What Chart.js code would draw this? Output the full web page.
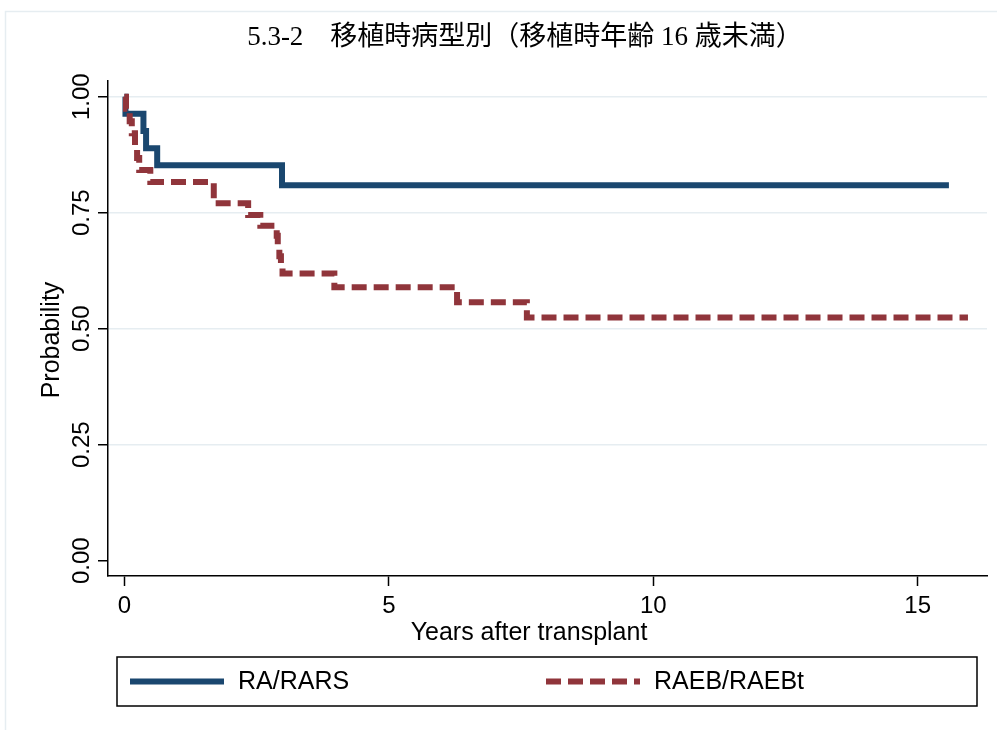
<!DOCTYPE html>
<html>
<head>
<meta charset="utf-8">
<script src="https://cdn.jsdelivr.net/npm/chart.js@4.4.1/dist/chart.umd.min.js"></script>
<style>
  html, body { margin:0; padding:0; background:#fff; }
  #wrap { width:997px; height:730px; }
</style>
</head>
<body>
<div id="wrap"><canvas id="km"></canvas></div>
<script>
// Kaplan-Meier curves (years, probability)
const raTimes   = [0, 0.02, 0.36, 0.41, 0.62, 2.98, 15.59];
const raSurv    = [1.000, 0.963, 0.926, 0.889, 0.852, 0.809, 0.809];
const raebTimes = [0, 0.03, 0.10, 0.14, 0.20, 0.24, 0.28, 0.49, 1.69, 2.34, 2.57, 2.88, 2.90, 2.93, 2.96, 2.99, 3.97, 6.29, 7.61, 15.95];
const raebSurv  = [1.000, 0.974, 0.947, 0.921, 0.895, 0.868, 0.842, 0.816, 0.770, 0.745, 0.722, 0.700, 0.678, 0.656, 0.638, 0.619, 0.589, 0.557, 0.524, 0.524];
const seriesNames = ["RA/RARS", "RAEB/RAEBt"];
const xTicks = [0, 5, 10, 15];
const yTicks = [0, 0.25, 0.5, 0.75, 1];
const yTickLabels = ["0.00", "0.25", "0.50", "0.75", "1.00"];

const TITLE = "5.3-2\u3000移植時病型別（移植時年齢 16 歳未満）";
const X_TITLE = "Years after transplant";
const Y_TITLE = "Probability";

const BLUE = "#1a476f", RED = "#90353b", GRID = "#e6edf1";
const SANS = "'Liberation Sans', Arial, Helvetica, sans-serif";
const FS_TICK = 24, FS_LABEL = 25;

const toPts = (ts, ps) => ts.map((t, i) => ({ x: t, y: ps[i] }));

// light outer frame of the graph region
const frame = {
  id: "frame",
  beforeDraw(chart) {
    const ctx = chart.ctx;
    ctx.save();
    ctx.fillStyle = "#fff";
    ctx.fillRect(0, 0, chart.width, chart.height);
    ctx.strokeStyle = GRID;
    ctx.lineWidth = 1.5;
    ctx.strokeRect(5.5, 11.5, chart.width + 20, chart.height + 20);
    ctx.restore();
  }
};

// vertical y tick labels + axis titles
const axisText = {
  id: "axisText",
  afterDraw(chart) {
    const ctx = chart.ctx, ys = chart.scales.y;
    ctx.save();
    ctx.fillStyle = "#000";
    ctx.textAlign = "center";
    ctx.textBaseline = "middle";
    ctx.font = FS_TICK + "px " + SANS;
    yTicks.forEach((v, i) => {
      ctx.save();
      ctx.translate(ys.right - 26, ys.getPixelForValue(v));
      ctx.rotate(-Math.PI / 2);
      ctx.fillText(yTickLabels[i], 0, 0);
      ctx.restore();
    });
    ctx.font = FS_LABEL + "px " + SANS;
    ctx.save();
    ctx.translate(52, 340);
    ctx.rotate(-Math.PI / 2);
    ctx.fillText(Y_TITLE, 0, 0);
    ctx.restore();
    ctx.fillText(X_TITLE, 529, 633);
    ctx.restore();
  }
};

// Stata style legend in a box under the plot
const boxLegend = {
  id: "boxLegend",
  afterDraw(chart) {
    const ctx = chart.ctx;
    const x0 = 117, y0 = 657, w = 860, h = 49, cy = y0 + h / 2;
    const starts = [130, 546];
    ctx.save();
    ctx.strokeStyle = "#000";
    ctx.lineWidth = 1.5;
    ctx.strokeRect(x0, y0, w, h);
    chart.data.datasets.forEach((ds, i) => {
      const lx = starts[i];
      ctx.beginPath();
      ctx.setLineDash(ds.borderDash || []);
      ctx.strokeStyle = ds.borderColor;
      ctx.lineWidth = ds.borderWidth;
      ctx.moveTo(lx, cy);
      ctx.lineTo(lx + 94, cy);
      ctx.stroke();
      ctx.setLineDash([]);
      ctx.fillStyle = "#000";
      ctx.font = FS_LABEL + "px " + SANS;
      ctx.textAlign = "left";
      ctx.textBaseline = "middle";
      ctx.fillText(ds.label, lx + 108, cy + 1);
    });
    ctx.restore();
  }
};

new Chart(document.getElementById("km"), {
  type: "line",
  data: {
    datasets: [
      { label: seriesNames[0], data: toPts(raTimes, raSurv), borderColor: BLUE, borderWidth: 6,
        stepped: true, pointRadius: 0, fill: false, order: 1, borderJoinStyle: "miter" },
      { label: seriesNames[1], data: toPts(raebTimes, raebSurv), borderColor: RED, borderWidth: 6,
        borderDash: [15, 7], stepped: true, pointRadius: 0, fill: false, order: 0, borderJoinStyle: "miter" }
    ]
  },
  options: {
    responsive: true,
    maintainAspectRatio: false,
    animation: false,
    layout: { padding: { top: 10, right: 10, bottom: 74, left: 63 } },
    plugins: {
      legend: { display: false },
      tooltip: { enabled: false },
      title: {
        display: true, text: TITLE, color: "#000",
        font: { family: "'Liberation Serif', 'Noto Sans CJK JP', serif", size: 27, weight: "normal" },
        padding: { top: 12, bottom: 26 }
      }
    },
    scales: {
      x: {
        type: "linear", min: -0.31, max: 16.31,
        afterBuildTicks: s => { s.ticks = xTicks.map(v => ({ value: v })); },
        afterFit: s => { s.height = 80; },
        grid: { drawOnChartArea: false, tickColor: "#000", tickLength: 10, tickWidth: 1.5 },
        border: { color: "#000", width: 1.5 },
        ticks: { color: "#000", font: { family: SANS, size: FS_TICK }, padding: 6, maxRotation: 0, autoSkip: false }
      },
      y: {
        type: "linear", min: -0.033, max: 1.035,
        afterBuildTicks: s => { s.ticks = yTicks.map(v => ({ value: v })); },
        afterFit: s => { s.width = 45; },
        grid: {
          color: c => (c.tick && c.tick.value === 0) ? "rgba(0,0,0,0)" : GRID,
          lineWidth: 1.5, tickColor: "#000", tickLength: 10, tickWidth: 1.5
        },
        border: { color: "#000", width: 1.5 },
        ticks: { display: false }
      }
    }
  },
  plugins: [frame, axisText, boxLegend]
});
</script>
</body>
</html>
